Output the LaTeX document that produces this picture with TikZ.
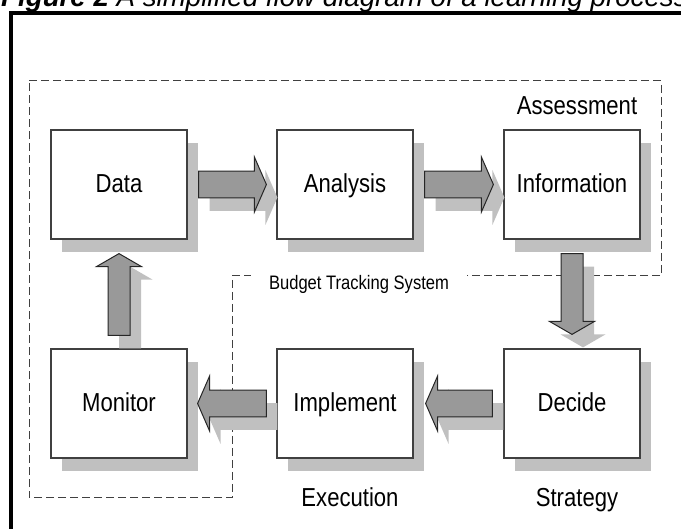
\documentclass[tikz,border=0pt]{standalone}
\usepackage{fontspec}
\setmainfont{Liberation Sans}
\newfontfamily\narrowfont[FakeStretch=0.85]{Liberation Sans}
\usetikzlibrary{calc,shadows}
\definecolor{shadowgray}{HTML}{C0C0C0}
\definecolor{arrowfill}{HTML}{999999}
\definecolor{boxline}{HTML}{404040}
\tikzset{
  box/.style={draw=boxline, fill=white, line width=1.2pt, inner sep=0pt,
    minimum width=136pt, minimum height=109pt,
    font=\narrowfont\fontsize{26}{30}\selectfont, text height=18.6pt, text depth=2pt,
    general shadow={fill=shadowgray, shadow xshift=11pt, shadow yshift=-13pt}},
  lbl/.style={inner sep=0pt, font=\narrowfont\fontsize{26}{30}\selectfont},
  smalllbl/.style={inner xsep=18pt, inner ysep=3pt, font=\narrowfont\fontsize{19.5}{22}\selectfont},
  dashframe/.style={draw=boxline, line width=1pt, dash pattern=on 8pt off 4pt},
  % block arrow between two points: shaft half width, head half width, head length
  blockarrow/.style n args={3}{to path={
    let \p1=(\tikztostart), \p2=(\tikztotarget),
        \n1={atan2(\y2-\y1,\x2-\x1)}, \n2={veclen(\x2-\x1,\y2-\y1)}
    in ($(\p1)+(\n1+90:#1)$) -- ($(\p1)+(\n1:\n2-#3)+(\n1+90:#1)$)
       -- ($(\p1)+(\n1:\n2-#3)+(\n1+90:#2)$) -- (\p2)
       -- ($(\p1)+(\n1:\n2-#3)+(\n1-90:#2)$) -- ($(\p1)+(\n1:\n2-#3)+(\n1-90:#1)$)
       -- ($(\p1)+(\n1-90:#1)$) -- cycle}},
  barrow/.style={draw=black!85, fill=arrowfill, line width=1pt, line join=miter,
    preaction={draw=none, fill=shadowgray, transform canvas={shift={(11pt,-13pt)}}}},
  hbar/.style={barrow, blockarrow={13.3pt}{27.5pt}{12pt}},
  vbar/.style={barrow, blockarrow={11pt}{22.5pt}{13pt}}
}
\begin{document}
\begin{tikzpicture}[x=1pt,y=-1pt]
  \useasboundingbox (0,0) rectangle (681,529);
  % caption and frame
  \node[anchor=base west, inner sep=0pt, font=\fontsize{27.7}{30}\selectfont\itshape] (caption)
    at (1,6.5) {\textbf{Figure 2} A simplified flow diagram of a learning process.};
  \draw[line width=4pt] (11,13) rectangle (720,560);
  % budget tracking system
  \draw[dashframe] (29,81) -- (661,81) -- (661,276) -- (232,276) -- (232,498) -- (29,498) -- cycle;
  \node[smalllbl, fill=white, anchor=base] (budget) at (359,290) {Budget Tracking System};
  % steps
  \node[box] (data) at (119,184.5) {Data};
  \node[box] (ana)  at (345,184.5) {Analysis};
  \node[box] (info) at (572,184.5) {Information};
  \node[box] (mon)  at (119,403.5) {Monitor};
  \node[box] (impl) at (345,403.5) {Implement};
  \node[box] (dec)  at (572,403.5) {Decide};
  % stages
  \node[lbl, anchor=base] (assess) at (577,115) {Assessment};
  \node[lbl, anchor=base] (exec)   at (350,507) {Execution};
  \node[lbl, anchor=base] (strat)  at (577,507) {Strategy};
  % block arrows
  \draw[hbar] ([xshift=11pt]data.east) to ([xshift=-10pt]ana.west);
  \draw[hbar] ([xshift=11pt]ana.east) to ([xshift=-10pt]info.west);
  \draw[vbar] ([yshift=-14pt]info.south) to ([yshift=14pt]dec.north);
  \draw[hbar] ([xshift=-11pt]dec.west) to ([xshift=12pt]impl.east);
  \draw[hbar] ([xshift=-10pt]impl.west) to ([xshift=10pt]mon.east);
  \draw[vbar] ([yshift=13pt]mon.north) to ([yshift=-14pt]data.south);
\end{tikzpicture}
\end{document}
